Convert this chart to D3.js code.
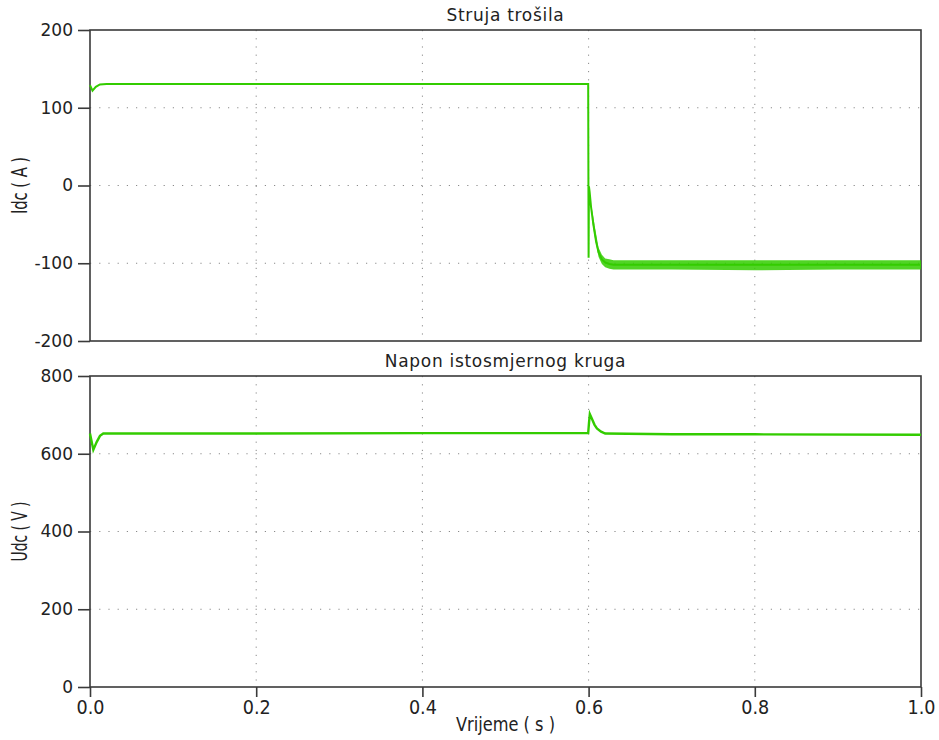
<!DOCTYPE html>
<html>
<head>
<meta charset="utf-8">
<script src="https://cdn.jsdelivr.net/npm/d3@7"></script>
<style>
  body { margin: 0; background: #fff; }
  text { font-family: "DejaVu Sans", Verdana, sans-serif; fill: #222; }
</style>
</head>
<body>
<svg id="chart" width="939" height="740"></svg>
<script>
// Struja trošila / Napon istosmjernog kruga - two stacked panels sharing time axis

// load current Idc (A)
const tCurr = [0, 0.003, 0.007, 0.012, 0.02, 0.1, 0.3, 0.5, 0.5995, 0.6, 0.6004, 0.6012, 0.603, 0.606, 0.609, 0.612, 0.616, 0.62, 0.625, 0.63, 0.7, 0.8, 0.9, 1.0];
const iCurr = [129, 122, 127, 130, 130.5, 130.5, 130.5, 130.5, 130.5, -93, -1, -8, -28, -52, -72, -86, -95, -99, -101, -102, -102, -102, -102, -102];

// ripple envelope of the current after the step
const tRip  = [0.604, 0.608, 0.612, 0.616, 0.62, 0.625, 0.63, 0.7, 0.8, 0.9, 1.0];
const ripLo = [-44, -70, -92, -101, -105, -107, -108, -108, -109, -108, -108];
const ripHi = [-30, -56, -80, -89, -94, -95, -96, -96, -96, -96, -96];

// dc link voltage Udc (V)
const tVolt = [0, 0.004, 0.008, 0.012, 0.016, 0.03, 0.2, 0.4, 0.5995, 0.6005, 0.6015, 0.604, 0.607, 0.61, 0.615, 0.62, 0.7, 0.8, 1.0];
const uVolt = [652, 610, 630, 646, 652, 652, 652, 653, 653, 680, 702, 690, 675, 665, 657, 652, 650, 650, 649];

const xTicks = [0, 0.2, 0.4, 0.6, 0.8, 1.0];
const iTicks = [-200, -100, 0, 100, 200];
const uTicks = [0, 200, 400, 600, 800];

const svg = d3.select('#chart');
const green = '#33cc00';
const left = 90, right = 921;

const x = d3.scaleLinear().domain([0, 1]).range([left, right]);

function panel(top, bottom, domain, ticks, title, ylabel, ylabelLen) {
  const y = d3.scaleLinear().domain(domain).range([bottom, top]);
  const g = svg.append('g');

  // dotted grid
  g.selectAll('line.gx')
    .data(xTicks.slice(1, -1))
    .join('line')
    .attr('x1', d => x(d)).attr('x2', d => x(d))
    .attr('y1', top).attr('y2', bottom)
    .attr('stroke', '#8a8a8a')
    .attr('stroke-dasharray', '1.2,7');
  g.selectAll('line.gy')
    .data(ticks.slice(1, -1))
    .join('line')
    .attr('y1', d => y(d)).attr('y2', d => y(d))
    .attr('x1', left).attr('x2', right)
    .attr('stroke', '#8a8a8a')
    .attr('stroke-dasharray', '1.2,8');

  // frame
  g.append('rect')
    .attr('x', left).attr('y', top)
    .attr('width', right - left).attr('height', bottom - top)
    .attr('fill', 'none')
    .attr('stroke', '#3a3a3a')
    .attr('stroke-width', 1.6);

  const ax = g.append('g')
    .attr('transform', `translate(${left},0)`)
    .call(d3.axisLeft(y).tickValues(ticks).tickSize(12).tickPadding(5).tickFormat(d => String(d)));
  ax.select('.domain').remove();
  ax.selectAll('line').attr('stroke', '#3a3a3a').attr('stroke-width', 1.6);
  ax.selectAll('text')
    .style('font-family', '"DejaVu Sans", Verdana, sans-serif')
    .style('font-size', '17px')
    .attr('fill', '#222');

  svg.append('text')
    .attr('x', (left + right) / 2)
    .attr('y', top - 9)
    .attr('text-anchor', 'middle')
    .style('font-size', '17px')
    .style('letter-spacing', '0.7px')
    .text(title);

  svg.append('text')
    .attr('transform', `translate(27,${(top + bottom) / 2}) rotate(-90)`)
    .attr('text-anchor', 'middle')
    .attr('textLength', ylabelLen)
    .attr('lengthAdjust', 'spacingAndGlyphs')
    .style('font-size', '22px')
    .text(ylabel);

  return { g, y };
}

const p1 = panel(30, 341, [-200, 200], iTicks, 'Struja trošila', 'Idc ( A )', 57);
const p2 = panel(376, 687, [0, 800], uTicks, 'Napon istosmjernog kruga', 'Udc ( V )', 60);

// current ripple band
const band = d3.area()
  .x((d, i) => x(tRip[i]))
  .y0((d, i) => p1.y(ripLo[i]))
  .y1((d, i) => p1.y(ripHi[i]));
p1.g.append('path')
  .attr('d', band(tRip))
  .attr('fill', green)
  .attr('opacity', 0.85);

const line = (ys, yScale) => d3.line()
  .x((d, i) => x(d))
  .y((d, i) => yScale(ys[i]));

p1.g.append('path')
  .attr('d', line(iCurr, p1.y)(tCurr))
  .attr('fill', 'none')
  .attr('stroke', green)
  .attr('stroke-width', 2);

p2.g.append('path')
  .attr('d', line(uVolt, p2.y)(tVolt))
  .attr('fill', 'none')
  .attr('stroke', green)
  .attr('stroke-width', 2.4);

// time axis
const xa = svg.append('g')
  .attr('transform', 'translate(0,687)')
  .call(d3.axisBottom(x).tickValues(xTicks).tickSize(10).tickPadding(3).tickFormat(d3.format('.1f')));
xa.select('.domain').remove();
xa.selectAll('line').attr('stroke', '#3a3a3a').attr('stroke-width', 1.6);
xa.selectAll('text')
  .style('font-family', '"DejaVu Sans", Verdana, sans-serif')
  .style('font-size', '20px')
  .attr('textLength', 28)
  .attr('lengthAdjust', 'spacingAndGlyphs')
  .attr('fill', '#222');

svg.append('text')
  .attr('x', (left + right) / 2)
  .attr('y', 731)
  .attr('text-anchor', 'middle')
  .attr('textLength', 99)
  .attr('lengthAdjust', 'spacingAndGlyphs')
  .style('font-size', '20px')
  .text('Vrijeme ( s )');
</script>
</body>
</html>
